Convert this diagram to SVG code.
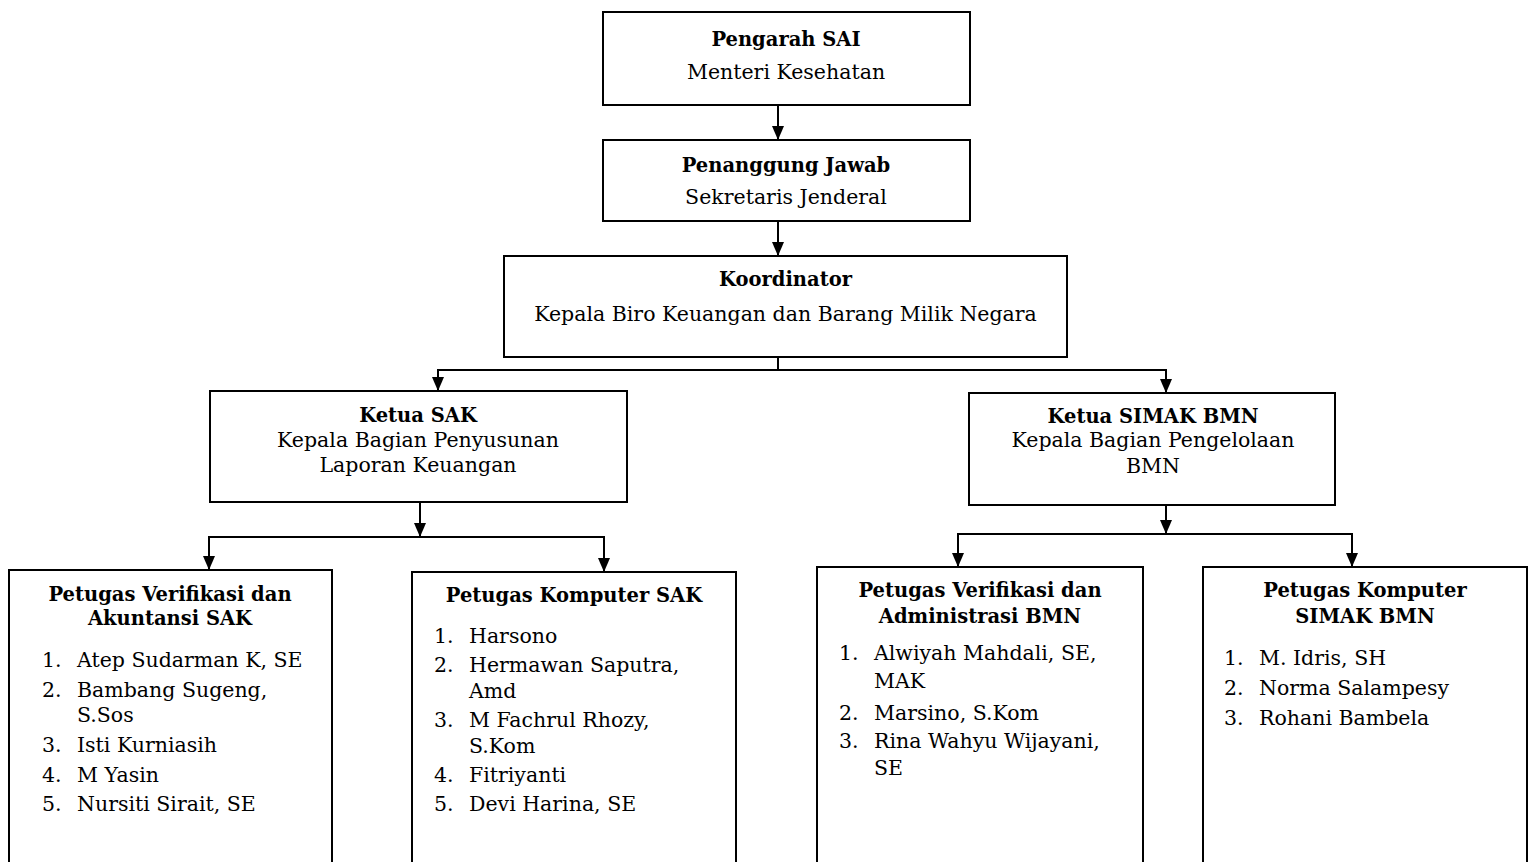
<svg xmlns="http://www.w3.org/2000/svg" width="1533" height="862" viewBox="0 0 1533 862">
<style>
.box{fill:#fff;stroke:#000;stroke-width:2}
.t{font-family:"DejaVu Serif","Liberation Serif",serif;font-size:20.5px;fill:#000}
.b{font-family:"DejaVu Serif","Liberation Serif",serif;font-size:19.5px;font-weight:bold;fill:#000}
.c{text-anchor:middle}
.ln{fill:none;stroke:#000;stroke-width:2}
</style>
<defs>
<marker id="ah" viewBox="0 0 14 12" refX="14" refY="6" markerWidth="14" markerHeight="12" markerUnits="userSpaceOnUse" orient="auto">
<path d="M0,0 L14,6 L0,12 z" fill="#000"/>
</marker>
</defs>
<rect width="1533" height="862" fill="#fff"/>
<g id="connectors">
<line class="ln" x1="778" y1="105" x2="778" y2="140" marker-end="url(#ah)"/>
<line class="ln" x1="778" y1="221" x2="778" y2="256" marker-end="url(#ah)"/>
<line class="ln" x1="778" y1="357" x2="778" y2="370"/>
<line class="ln" x1="437" y1="370" x2="1167" y2="370"/>
<line class="ln" x1="438" y1="370" x2="438" y2="391" marker-end="url(#ah)"/>
<line class="ln" x1="1166" y1="370" x2="1166" y2="393" marker-end="url(#ah)"/>
<line class="ln" x1="420" y1="502" x2="420" y2="537" marker-end="url(#ah)"/>
<line class="ln" x1="208" y1="537" x2="605" y2="537"/>
<line class="ln" x1="209" y1="537" x2="209" y2="570" marker-end="url(#ah)"/>
<line class="ln" x1="604" y1="537" x2="604" y2="572" marker-end="url(#ah)"/>
<line class="ln" x1="1166" y1="505" x2="1166" y2="534" marker-end="url(#ah)"/>
<line class="ln" x1="957" y1="534" x2="1353" y2="534"/>
<line class="ln" x1="958" y1="534" x2="958" y2="567" marker-end="url(#ah)"/>
<line class="ln" x1="1352" y1="534" x2="1352" y2="567" marker-end="url(#ah)"/>
</g>
<g id="pengarah">
<rect class="box" x="603" y="12" width="367" height="93"/>
<text class="b c" x="786" y="46">Pengarah SAI</text>
<text class="t c" x="786" y="79">Menteri Kesehatan</text>
</g>
<g id="penanggung">
<rect class="box" x="603" y="140" width="367" height="81"/>
<text class="b c" x="786" y="172">Penanggung Jawab</text>
<text class="t c" x="786" y="204">Sekretaris Jenderal</text>
</g>
<g id="koordinator">
<rect class="box" x="504" y="256" width="563" height="101"/>
<text class="b c" x="785.5" y="286">Koordinator</text>
<text class="t c" x="785.5" y="321">Kepala Biro Keuangan dan Barang Milik Negara</text>
</g>
<g id="ketua-sak">
<rect class="box" x="210" y="391" width="417" height="111"/>
<text class="b c" x="418" y="422">Ketua SAK</text>
<text class="t c" x="418" y="447">Kepala Bagian Penyusunan</text>
<text class="t c" x="418" y="472">Laporan Keuangan</text>
</g>
<g id="ketua-simak">
<rect class="box" x="969" y="393" width="366" height="112"/>
<text class="b c" x="1153" y="423">Ketua SIMAK BMN</text>
<text class="t c" x="1153" y="447">Kepala Bagian Pengelolaan</text>
<text class="t c" x="1153" y="473">BMN</text>
</g>
<g id="petugas-verifikasi-sak">
<rect class="box" x="9" y="570" width="323" height="300"/>
<text class="b c" x="170" y="601">Petugas Verifikasi dan</text>
<text class="b c" x="170" y="625">Akuntansi SAK</text>
<text class="t" x="42" y="667">1.</text><text class="t" x="77" y="667">Atep Sudarman K, SE</text>
<text class="t" x="42" y="697">2.</text><text class="t" x="77" y="697">Bambang Sugeng,</text>
<text class="t" x="77" y="722">S.Sos</text>
<text class="t" x="42" y="752">3.</text><text class="t" x="77" y="752">Isti Kurniasih</text>
<text class="t" x="42" y="782">4.</text><text class="t" x="77" y="782">M Yasin</text>
<text class="t" x="42" y="811">5.</text><text class="t" x="77" y="811">Nursiti Sirait, SE</text>
</g>
<g id="petugas-komputer-sak">
<rect class="box" x="412" y="572" width="324" height="300"/>
<text class="b c" x="574" y="602">Petugas Komputer SAK</text>
<text class="t" x="434" y="643">1.</text><text class="t" x="469" y="643">Harsono</text>
<text class="t" x="434" y="672">2.</text><text class="t" x="469" y="672">Hermawan Saputra,</text>
<text class="t" x="469" y="698">Amd</text>
<text class="t" x="434" y="727">3.</text><text class="t" x="469" y="727">M Fachrul Rhozy,</text>
<text class="t" x="469" y="753">S.Kom</text>
<text class="t" x="434" y="782">4.</text><text class="t" x="469" y="782">Fitriyanti</text>
<text class="t" x="434" y="811">5.</text><text class="t" x="469" y="811">Devi Harina, SE</text>
</g>
<g id="petugas-verifikasi-bmn">
<rect class="box" x="817" y="567" width="326" height="300"/>
<text class="b c" x="980" y="597">Petugas Verifikasi dan</text>
<text class="b c" x="980" y="623">Administrasi BMN</text>
<text class="t" x="839" y="660">1.</text><text class="t" x="874" y="660">Alwiyah Mahdali, SE,</text>
<text class="t" x="874" y="688">MAK</text>
<text class="t" x="839" y="720">2.</text><text class="t" x="874" y="720">Marsino, S.Kom</text>
<text class="t" x="839" y="748">3.</text><text class="t" x="874" y="748">Rina Wahyu Wijayani,</text>
<text class="t" x="874" y="775">SE</text>
</g>
<g id="petugas-komputer-simak">
<rect class="box" x="1203" y="567" width="324" height="300"/>
<text class="b c" x="1365" y="597">Petugas Komputer</text>
<text class="b c" x="1365" y="623">SIMAK BMN</text>
<text class="t" x="1224" y="665">1.</text><text class="t" x="1259" y="665">M. Idris, SH</text>
<text class="t" x="1224" y="695">2.</text><text class="t" x="1259" y="695">Norma Salampesy</text>
<text class="t" x="1224" y="725">3.</text><text class="t" x="1259" y="725">Rohani Bambela</text>
</g>
</svg>
